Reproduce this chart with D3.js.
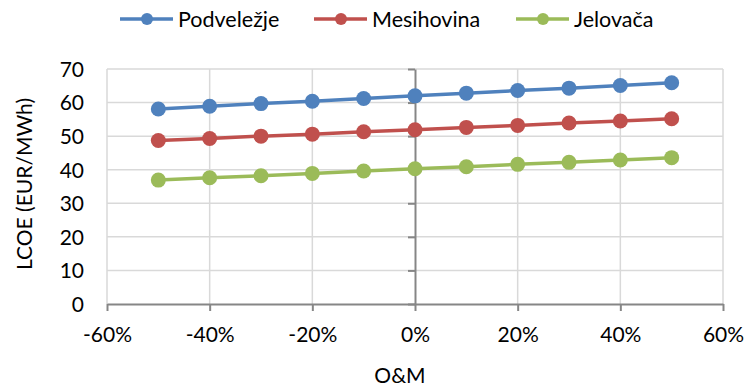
<!DOCTYPE html>
<html>
<head>
<meta charset="utf-8">
<script src="https://cdn.jsdelivr.net/npm/d3@7"></script>
<style>
  html, body { margin: 0; padding: 0; background: #fff; }
  svg { display: block; }
  text { font-family: Lato, "Noto Sans", sans-serif; fill: #000; }
</style>
</head>
<body>
<svg id="chart" width="745" height="392"></svg>
<script>
const xValues = [-0.5, -0.4, -0.3, -0.2, -0.1, 0, 0.1, 0.2, 0.3, 0.4, 0.5];
const seriesNames = ["Podveležje", "Mesihovina", "Jelovača"];
const podvelezje = [58.1, 58.9, 59.7, 60.4, 61.2, 62.0, 62.8, 63.6, 64.3, 65.1, 65.9];
const mesihovina = [48.7, 49.3, 50.0, 50.6, 51.3, 51.9, 52.6, 53.2, 53.9, 54.5, 55.2];
const jelovaca = [36.9, 37.6, 38.2, 38.9, 39.6, 40.3, 40.9, 41.6, 42.2, 42.9, 43.6];
const seriesColors = ["#4F81BD", "#C0504D", "#9BBB59"];
const xTicks = [-0.6, -0.4, -0.2, 0, 0.2, 0.4, 0.6];
const yTicks = [0, 10, 20, 30, 40, 50, 60, 70];
const xTitle = "O&M";
const yTitle = "LCOE (EUR/MWh)";

const seriesValues = [podvelezje, mesihovina, jelovaca];
const series = seriesNames.map((name, i) => ({
  name, color: seriesColors[i],
  points: xValues.map((x, j) => ({ x, y: seriesValues[i][j] }))
}));

const svg = d3.select("#chart");
const x = d3.scaleLinear().domain([-0.6, 0.6]).range([107, 723]);
const y = d3.scaleLinear().domain([0, 70]).range([304, 69]);
const fs = 21;

// gridlines
const grid = svg.append("g");
grid.selectAll(".hg").data(yTicks.filter(d => d > 0)).join("line")
  .attr("x1", x(-0.6)).attr("x2", x(0.6))
  .attr("y1", d => y(d)).attr("y2", d => y(d))
  .attr("stroke", "#D9D9D9").attr("stroke-width", 1.5);
grid.selectAll(".vg").data(xTicks.filter(d => d !== 0)).join("line")
  .attr("x1", d => x(d)).attr("x2", d => x(d))
  .attr("y1", y(70)).attr("y2", y(0))
  .attr("stroke", "#D9D9D9").attr("stroke-width", 1.5);

// x axis at y=0
const xAxis = d3.axisBottom(x).tickValues(xTicks).tickSize(7).tickSizeOuter(0)
  .tickFormat(d => d3.format(".0%")(d).replace("−", "-"));
const gx = svg.append("g").attr("transform", `translate(0,${y(0)})`).call(xAxis);
gx.select(".domain").attr("stroke", "#868686").attr("stroke-width", 2);
gx.selectAll(".tick line").attr("stroke", "#868686").attr("stroke-width", 2);
gx.selectAll(".tick text").attr("font-size", fs).attr("font-family", "Lato")
  .attr("y", 23).attr("dy", "0.71em");

// y axis at x=0
const yAxis = d3.axisLeft(y).tickValues(yTicks).tickSize(7).tickSizeOuter(0).tickFormat(d3.format("d"));
const gy = svg.append("g").attr("transform", `translate(${x(0)},0)`).call(yAxis);
gy.select(".domain").attr("stroke", "#868686").attr("stroke-width", 2);
gy.selectAll(".tick line").attr("stroke", "#868686").attr("stroke-width", 2);
gy.selectAll(".tick text").attr("font-size", fs).attr("font-family", "Lato")
  .attr("x", 84 - x(0)).attr("dy", "0.35em").attr("text-anchor", "end");

// lines and markers
const line = d3.line().x(d => x(d.x)).y(d => y(d.y));
series.forEach(s => {
  svg.append("path").datum(s.points).attr("d", line)
    .attr("fill", "none").attr("stroke", s.color).attr("stroke-width", 3.5);
  svg.append("g").selectAll("circle").data(s.points).join("circle")
    .attr("cx", d => x(d.x)).attr("cy", d => y(d.y)).attr("r", 7.5)
    .attr("fill", s.color);
});

// axis titles
svg.append("text").attr("x", 400).attr("y", 383).attr("text-anchor", "middle")
  .attr("font-size", fs).text(xTitle);
svg.append("text").attr("transform", "translate(25,184) rotate(-90)")
  .attr("text-anchor", "middle").attr("dy", "0.35em").attr("font-size", fs).text(yTitle);

// legend
const legendX = [120, 314, 516];
const legend = svg.append("g");
series.forEach((s, i) => {
  const g = legend.append("g").attr("transform", `translate(${legendX[i]},19)`);
  g.append("line").attr("x1", 0).attr("x2", 53).attr("y1", 0).attr("y2", 0)
    .attr("stroke", s.color).attr("stroke-width", 3.5);
  g.append("circle").attr("cx", 27).attr("cy", 0).attr("r", 6).attr("fill", s.color);
  g.append("text").attr("x", 58).attr("dy", "0.35em").attr("font-size", 21.5).text(s.name);
});
</script>
</body>
</html>
